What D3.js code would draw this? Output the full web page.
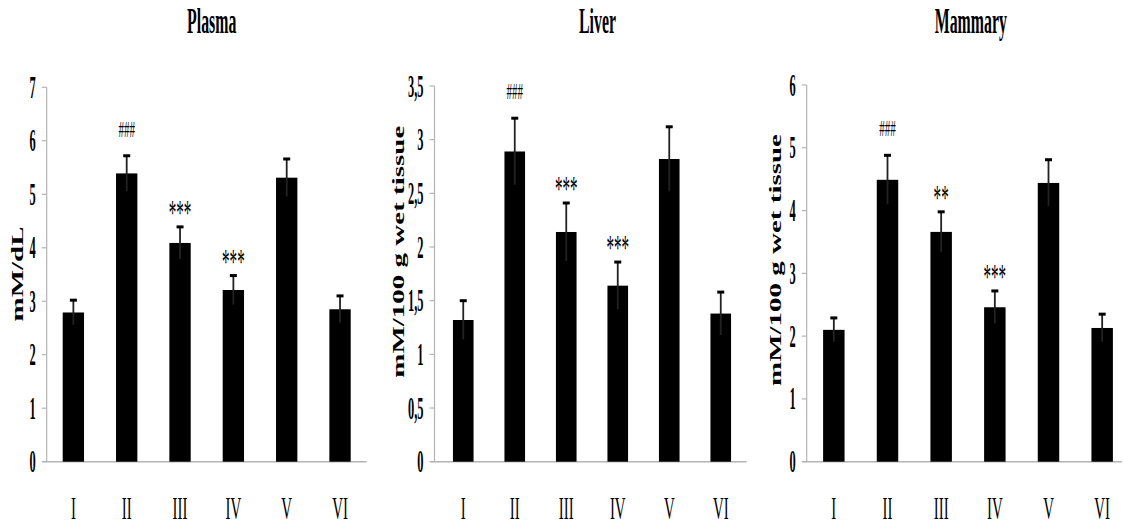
<!DOCTYPE html>
<html>
<head>
<meta charset="utf-8">
<script src="https://cdn.jsdelivr.net/npm/d3@7"></script>
<style>
body{margin:0;background:#fff}
svg{display:block}
text{font-family:"Liberation Serif","Times New Roman",serif;fill:#000}
</style>
</head>
<body>
<svg id="chart"></svg>
<script>
// groups on the x axis
var groups = ["I","II","III","IV","V","VI"];

// plasma
var plasmaMeans  = [2.79,5.39,4.09,3.21,5.31,2.85];
var plasmaErrors = [0.23,0.33,0.30,0.27,0.35,0.25];
var plasmaMarks  = ["","###","***","***","",""];
var plasmaTicks  = [0,1,2,3,4,5,6,7];

// liver
var liverMeans  = [1.32,2.89,2.14,1.64,2.82,1.38];
var liverErrors = [0.18,0.31,0.27,0.22,0.30,0.20];
var liverMarks  = ["","###","***","***","",""];
var liverTicks  = [0,0.5,1,1.5,2,2.5,3,3.5];

// mammary
var mammaryMeans  = [2.10,4.49,3.66,2.46,4.44,2.13];
var mammaryErrors = [0.19,0.39,0.32,0.26,0.37,0.22];
var mammaryMarks  = ["","###","**","***","",""];
var mammaryTicks  = [0,1,2,3,4,5,6];

var screen = {width:1123,height:526}
var squeeze = 0.44   // the figure is narrow, text looks condensed

var panels = [
    {title:"Plasma", ylabel:"mM/dL", means:plasmaMeans, errors:plasmaErrors, marks:plasmaMarks, ticks:plasmaTicks,
     axisX:46.7, range:[46.7,366.7], lineEnd:366.7, top:87.3, titleX:211.7, labelX:23.3, labelY:274},
    {title:"Liver", ylabel:"mM/100 g wet tissue", means:liverMeans, errors:liverErrors, marks:liverMarks, ticks:liverTicks,
     axisX:434.5, range:[437.5,746.5], lineEnd:746.5, top:86, titleX:597.5, labelX:403.5, labelY:251.7},
    {title:"Mammary", ylabel:"mM/100 g wet tissue", means:mammaryMeans, errors:mammaryErrors, marks:mammaryMarks, ticks:mammaryTicks,
     axisX:806.7, range:[807,1129], lineEnd:1122, top:85, titleX:970.8, labelX:781, labelY:260}
]
var bottom = 461.7

var svg = d3.select("#chart")
    .attr("width",screen.width)
    .attr("height",screen.height)

var fmt = function(v)
{
    return String(v).replace(".",",");
}

var drawPanel = function(p)
{
    var g = svg.append("g")

    var xScale = d3.scalePoint()
        .domain(groups)
        .range(p.range)
        .padding(0.5)
    var barW = xScale.step()*0.4

    var yScale = d3.scaleLinear()
        .domain([0,d3.max(p.ticks)])
        .range([bottom,p.top])

    // axes
    g.append("line")
        .attr("x1",p.axisX).attr("x2",p.axisX)
        .attr("y1",yScale(d3.max(p.ticks))).attr("y2",bottom)
        .attr("stroke","#b4b4b4").attr("stroke-width",1.2)
    g.append("line")
        .attr("x1",p.axisX-4).attr("x2",p.lineEnd)
        .attr("y1",bottom).attr("y2",bottom)
        .attr("stroke","#b4b4b4").attr("stroke-width",1.5)

    g.selectAll(".tick")
        .data(p.ticks)
        .enter()
        .append("line")
        .attr("x1",p.axisX-5).attr("x2",p.axisX)
        .attr("y1",function(d){return yScale(d)})
        .attr("y2",function(d){return yScale(d)})
        .attr("stroke","#b4b4b4").attr("stroke-width",1.2)

    g.selectAll(".ticklabel")
        .data(p.ticks)
        .enter()
        .append("text")
        .text(fmt)
        .attr("font-size",31)
        .attr("font-weight","bold")
        .attr("text-anchor","end")
        .attr("transform",function(d)
        {
            return "translate("+(p.axisX-11)+","+(yScale(d)+10.5)+") scale(0.4,1)";
        })

    // bars
    g.selectAll(".bar")
        .data(p.means)
        .enter()
        .append("rect")
        .attr("x",function(d,i){return xScale(groups[i])-barW/2})
        .attr("y",function(d){return yScale(d)})
        .attr("width",barW)
        .attr("height",function(d){return bottom-yScale(d)})
        .attr("fill","#000")

    // error bars
    g.selectAll(".err")
        .data(p.means)
        .enter()
        .append("line")
        .attr("x1",function(d,i){return xScale(groups[i])})
        .attr("x2",function(d,i){return xScale(groups[i])})
        .attr("y1",function(d,i){return yScale(d-p.errors[i])})
        .attr("y2",function(d,i){return yScale(d+p.errors[i])})
        .attr("stroke","#222").attr("stroke-width",1.8)
    g.selectAll(".cap")
        .data(p.means)
        .enter()
        .append("line")
        .attr("x1",function(d,i){return xScale(groups[i])-3.5})
        .attr("x2",function(d,i){return xScale(groups[i])+3.5})
        .attr("y1",function(d,i){return yScale(d+p.errors[i])})
        .attr("y2",function(d,i){return yScale(d+p.errors[i])})
        .attr("stroke","#000").attr("stroke-width",3)

    // significance marks
    g.selectAll(".mark")
        .data(p.marks)
        .enter()
        .append("text")
        .text(function(d){return d})
        .attr("font-size",function(d){return d.charAt(0)=="#" ? 23 : 36})
        .attr("text-anchor","middle")
        .attr("transform",function(d,i)
        {
            var yy = yScale(p.means[i]+p.errors[i]) - (d.charAt(0)=="#" ? 19 : 2)
            return "translate("+xScale(groups[i])+","+yy+") scale("+(d.charAt(0)=="#" ? 0.48 : 0.42)+",1)";
        })

    // group labels
    g.selectAll(".group")
        .data(groups)
        .enter()
        .append("text")
        .text(function(d){return d})
        .attr("font-size",31)
        .attr("text-anchor","middle")
        .attr("transform",function(d)
        {
            return "translate("+xScale(d)+",519) scale(0.48,1)";
        })

    // title
    g.append("text")
        .text(p.title)
        .attr("font-size",36)
        .attr("font-weight","bold")
        .attr("text-anchor","middle")
        .attr("transform","translate("+p.titleX+",33) scale("+squeeze+",1)")

    // y label
    g.append("text")
        .text(p.ylabel)
        .attr("font-size",29)
        .attr("font-weight","bold")
        .attr("text-anchor","middle")
        .attr("transform","translate("+p.labelX+","+p.labelY+") rotate(-90) scale(1,0.55)")
}

panels.forEach(drawPanel)
</script>
</body>
</html>
